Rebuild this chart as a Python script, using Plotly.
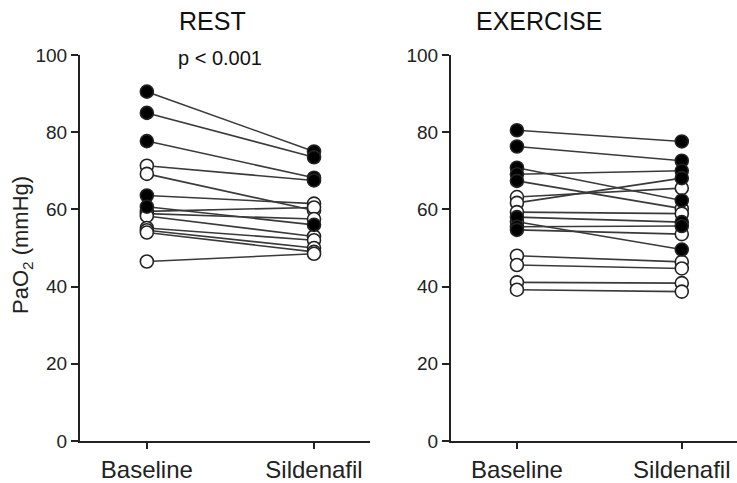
import plotly.graph_objects as go

# ---- data ----
categories = ["Baseline", "Sildenafil"]

rest_baseline   = [90.5, 85.0, 77.7, 71.3, 69.2, 63.6, 60.7, 59.5, 58.9, 58.3, 55.2, 54.6, 54.0, 46.5]
rest_sildenafil = [75.0, 73.5, 68.2, 67.5, 59.7, 61.5, 56.0, 60.5, 57.5, 53.0, 52.0, 50.0, 49.0, 48.5]
rest_base_filled = [1, 1, 1, 0, 0, 1, 1, 0, 0, 0, 0, 0, 0, 0]
rest_sild_filled = [1, 1, 1, 1, 0, 0, 1, 0, 0, 0, 0, 0, 0, 0]

ex_baseline   = [80.5, 76.3, 70.8, 69.1, 67.4, 63.2, 61.7, 59.3, 58.0, 56.8, 55.5, 54.7, 48.0, 45.6, 41.1, 39.2]
ex_sildenafil = [77.6, 72.6, 62.3, 70.0, 60.2, 65.5, 68.1, 58.9, 56.7, 49.6, 55.7, 53.6, 46.4, 44.7, 40.9, 38.7]
ex_base_filled = [1, 1, 1, 1, 1, 0, 0, 0, 1, 0, 1, 1, 0, 0, 0, 0]
ex_sild_filled = [1, 1, 1, 1, 0, 0, 1, 0, 1, 1, 1, 0, 0, 0, 0, 0]

y_ticks = [0, 20, 40, 60, 80, 100]
p_text = "p < 0.001"
panel_titles = ["REST", "EXERCISE"]
y_title = "PaO<sub>2</sub> (mmHg)"

FONT = "Liberation Sans, Arial, sans-serif"
W, H = 737, 483
M_T, M_B = 55, 38
PH = H - M_T - M_B  # plot-area height in px


def py(px_from_top):
    """convert a pixel y (from top of page) into paper coordinates"""
    return (H - M_B - px_from_top) / PH


fig = go.Figure()


def add_panel(base, sild, bf, sf, xa, ya):
    xs, ys = [], []
    for b, s in zip(base, sild):
        xs += [0, 1, None]
        ys += [b, s, None]
    fig.add_trace(go.Scatter(x=xs, y=ys, mode="lines",
                             line=dict(color="#3a3a3a", width=1.6),
                             xaxis=xa, yaxis=ya, showlegend=False, hoverinfo="skip"))
    mx = [0] * len(base) + [1] * len(sild)
    my = list(base) + list(sild)
    mf = list(bf) + list(sf)
    order = sorted(range(len(my)), key=lambda i: mf[i])
    fig.add_trace(go.Scatter(
        x=[mx[i] for i in order], y=[my[i] for i in order], mode="markers",
        marker=dict(size=13, symbol="circle",
                    color=["black" if mf[i] else "white" for i in order],
                    line=dict(color="#222222", width=1.6)),
        xaxis=xa, yaxis=ya, showlegend=False, cliponaxis=False))


add_panel(rest_baseline, rest_sildenafil, rest_base_filled, rest_sild_filled, "x", "y")
add_panel(ex_baseline, ex_sildenafil, ex_base_filled, ex_sild_filled, "x2", "y2")

x_range = [-0.40, 1.335]
common_x = dict(range=x_range, tickmode="array", tickvals=[0, 1], ticktext=categories,
                showline=True, linecolor="#222222", linewidth=2, ticks="outside",
                ticklen=6, tickwidth=1.5, tickcolor="#222222", showgrid=False, zeroline=False,
                tickfont=dict(family=FONT, size=24, color="#222222"))
common_y = dict(range=[0, 100], tickmode="array", tickvals=y_ticks,
                showline=True, linecolor="#222222", linewidth=2, ticks="outside",
                ticklen=7, tickwidth=1.5, tickcolor="#222222", showgrid=False, zeroline=False,
                tickfont=dict(family=FONT, size=19, color="#222222"))

fig.update_layout(
    width=W, height=H,
    margin=dict(l=0, r=0, t=M_T, b=M_B),
    paper_bgcolor="white", plot_bgcolor="white",
    xaxis=dict(domain=[80 / W, 370 / W], anchor="y", **common_x),
    yaxis=dict(domain=[0, 1], anchor="x", **common_y),
    xaxis2=dict(domain=[451 / W, 1.0], anchor="y2", **common_x),
    yaxis2=dict(domain=[0, 1], anchor="x2", **common_y),
    annotations=[
        dict(text=panel_titles[0], x=212 / W, y=py(21), xref="paper", yref="paper",
             yanchor="middle", xanchor="center", showarrow=False,
             font=dict(family=FONT, size=25, color="#111111")),
        dict(text=panel_titles[1], x=539 / W, y=py(21), xref="paper", yref="paper",
             yanchor="middle", xanchor="center", showarrow=False,
             font=dict(family=FONT, size=25, color="#111111")),
        dict(text=p_text, x=220 / W, y=py(58), xref="paper", yref="paper",
             yanchor="middle", xanchor="center", showarrow=False,
             font=dict(family=FONT, size=20, color="#111111")),
        dict(text=y_title, x=22 / W, y=py(247), xref="paper", yref="paper",
             yanchor="middle", xanchor="center", showarrow=False, textangle=-90,
             font=dict(family=FONT, size=22, color="#222222")),
    ],
)

fig.write_html("out.html")
